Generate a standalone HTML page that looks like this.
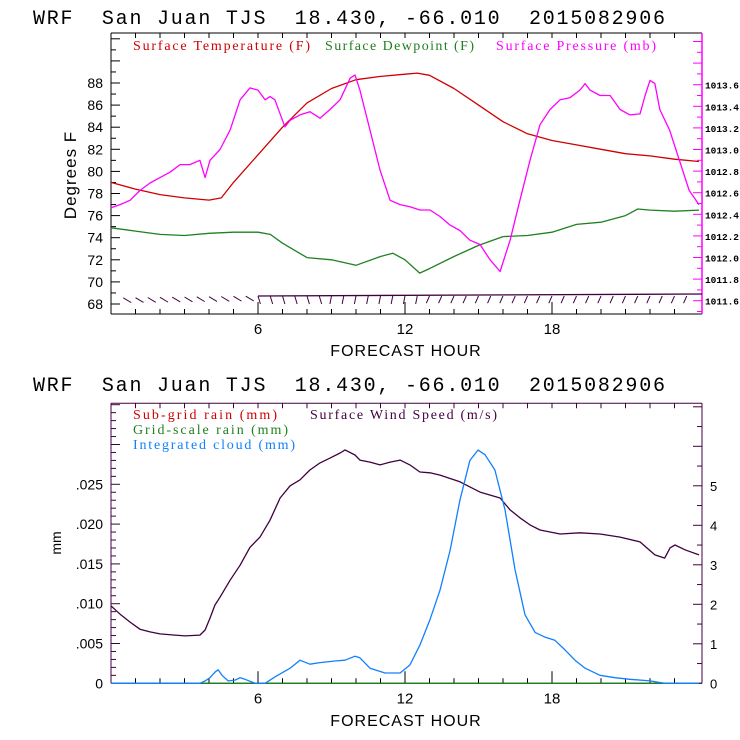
<!DOCTYPE html>
<html><head><meta charset="utf-8"><style>
html,body{margin:0;padding:0;background:#fff;}
svg{display:block;}
</style></head><body>
<svg id="s" width="740" height="740" xmlns="http://www.w3.org/2000/svg">
<rect width="740" height="740" fill="#fff"/>
<text x="33" y="24" font-family="Liberation Mono, monospace" font-size="20" textLength="632" lengthAdjust="spacing" xml:space="preserve">WRF  San Juan TJS  18.430, -66.010  2015082906</text>
<text x="33" y="391" font-family="Liberation Mono, monospace" font-size="20" textLength="632" lengthAdjust="spacing" xml:space="preserve">WRF  San Juan TJS  18.430, -66.010  2015082906</text>
<g font-family="Liberation Serif, serif" font-size="14">
<text x="133" y="50" fill="#d00000" textLength="177">Surface Temperature (F)</text>
<text x="325" y="50" fill="#208020" textLength="149">Surface Dewpoint (F)</text>
<text x="496" y="50" fill="#ff00ff" textLength="160">Surface Pressure (mb)</text>
<text x="133" y="419" fill="#d00000" textLength="144">Sub-grid rain (mm)</text>
<text x="310" y="419" fill="#400040" textLength="187">Surface Wind Speed (m/s)</text>
<text x="133" y="434" fill="#208020" textLength="155">Grid-scale rain (mm)</text>
<text x="133" y="449" fill="#1080ff" textLength="162">Integrated cloud (mm)</text>
</g>
<text transform="translate(76,175) rotate(-90)" text-anchor="middle" font-family="Liberation Sans, sans-serif" font-size="17" letter-spacing="1">Degrees F</text>
<text transform="translate(61,543) rotate(-90)" text-anchor="middle" font-family="Liberation Sans, sans-serif" font-size="14">mm</text>
<text x="406" y="356" text-anchor="middle" font-family="Liberation Sans, sans-serif" font-size="16" letter-spacing="1">FORECAST HOUR</text>
<text x="406" y="726" text-anchor="middle" font-family="Liberation Sans, sans-serif" font-size="16" letter-spacing="1">FORECAST HOUR</text>
<g id="g"></g>
</svg>
<script>
// ---- data ----
const tempHours=[0,1,2,3,4,4.5,5,6,7,8,9,10,11,12,12.5,13,14,15,16,17,18,19,20,21,22,23,24];
const tempVals=[79,78.4,77.9,77.6,77.4,77.6,79,81.5,84,86.2,87.5,88.3,88.6,88.8,88.9,88.7,87.5,86,84.5,83.4,82.8,82.4,82,81.6,81.4,81.1,80.9];
const dewHours=[0,1,2,3,4,5,6,6.5,7,8,9,10,11,11.5,12,12.6,13,14,15,16,17,18,19,20,21,21.5,22,23,24];
const dewVals=[74.9,74.6,74.3,74.2,74.4,74.5,74.5,74.3,73.5,72.2,72.0,71.5,72.3,72.6,72.0,70.8,71.2,72.3,73.3,74.1,74.2,74.5,75.2,75.4,76.0,76.6,76.5,76.4,76.5];
const presHours=[0,0.37,0.78,1.18,1.59,2.0,2.41,2.82,3.22,3.63,3.84,4.04,4.45,4.86,5.27,5.67,6,6.29,6.49,6.69,7.1,7.31,7.71,8.12,8.53,8.94,9.35,9.76,9.96,10.16,10.57,10.98,11.39,11.8,12.2,12.61,13.02,13.43,13.84,14.24,14.65,15.06,15.47,15.88,16.29,16.69,17.1,17.51,17.92,18.33,18.73,19.14,19.35,19.55,19.96,20.37,20.78,21.18,21.59,21.8,22.0,22.2,22.4,22.8,23.2,23.6,24.0];
const presVals=[1012.46,1012.49,1012.53,1012.62,1012.69,1012.74,1012.79,1012.86,1012.86,1012.90,1012.74,1012.90,1013.00,1013.18,1013.46,1013.57,1013.55,1013.46,1013.49,1013.46,1013.21,1013.27,1013.32,1013.35,1013.29,1013.37,1013.46,1013.66,1013.69,1013.55,1013.18,1012.81,1012.53,1012.49,1012.47,1012.44,1012.44,1012.38,1012.30,1012.25,1012.16,1012.12,1011.98,1011.87,1012.16,1012.53,1012.90,1013.23,1013.37,1013.46,1013.48,1013.55,1013.61,1013.55,1013.50,1013.50,1013.37,1013.32,1013.33,1013.50,1013.64,1013.61,1013.37,1013.18,1012.90,1012.62,1012.49];
const windHours=[0,0.37,0.78,1.18,1.59,2.0,2.61,3.02,3.63,3.84,4.04,4.24,4.45,4.86,5.27,5.67,6.08,6.49,6.9,7.31,7.71,8.12,8.53,8.94,9.35,9.55,9.96,10.16,10.57,10.98,11.39,11.8,12.2,12.61,13.02,13.43,14.24,15.06,15.88,16.29,16.69,17.1,17.51,18.33,19.14,19.96,20.78,21.59,22.2,22.6,22.82,23.02,23.43,24.0];
const windVals=[1.96,1.75,1.55,1.37,1.30,1.25,1.22,1.20,1.22,1.35,1.65,1.98,2.18,2.61,2.99,3.44,3.70,4.13,4.69,5.0,5.15,5.40,5.58,5.70,5.83,5.91,5.78,5.65,5.60,5.53,5.60,5.65,5.53,5.35,5.33,5.27,5.10,4.84,4.69,4.39,4.19,4.01,3.88,3.78,3.81,3.78,3.70,3.58,3.25,3.17,3.43,3.50,3.38,3.25];
const cloudHours=[0,3.63,3.84,4.04,4.24,4.37,4.53,4.78,5.06,5.27,5.47,5.88,6.29,6.69,7.31,7.71,8.12,8.53,9.14,9.55,9.96,10.16,10.57,11.18,11.8,12.2,12.61,13.02,13.43,13.84,14.24,14.65,14.98,15.27,15.67,16.08,16.49,16.9,17.31,17.71,18.12,18.53,18.94,19.35,19.96,20.57,21.18,22.0,22.6,24];
const cloudVals=[0,0,0.0003,0.0007,0.0014,0.0017,0.001,0.0003,0.0004,0.0007,0.0005,0,0,0.0008,0.0019,0.0029,0.0024,0.0026,0.0028,0.0029,0.0034,0.0032,0.0019,0.0013,0.0013,0.0023,0.0048,0.008,0.0117,0.0167,0.023,0.028,0.0293,0.0287,0.0268,0.0218,0.0143,0.0086,0.0064,0.0058,0.0054,0.0042,0.0029,0.0019,0.001,0.0007,0.0005,0.0003,0,0];
const rainHours=[0,24];
const subgridRain=[0,0];
const gridRain=[0,0];
const tempTicks=[68,70,72,74,76,78,80,82,84,86,88];
const presTicks=[1011.6,1011.8,1012.0,1012.2,1012.4,1012.6,1012.8,1013.0,1013.2,1013.4,1013.6];
const mmTicks=[0,0.005,0.010,0.015,0.020,0.025];
const mmLabels=["0",".005",".010",".015",".020",".025"];
const windTicks=[0,1,2,3,4,5];
const hourTicks=[6,12,18];
// ---- axes ----
const L=111,R=702,PX=24.5;
const xS=h=>L+h*PX;
const yT=t=>304-(t-68)*11.05;
const yP=p=>300.7-(p-1011.6)*108;
const yMM=c=>683.3-c*7960;
const yW=v=>683.3-v*39.5;
const NS="http://www.w3.org/2000/svg";
const g=document.getElementById('g');
function el(tag,attrs,parent){const e=document.createElementNS(NS,tag);for(const k in attrs)e.setAttribute(k,attrs[k]);(parent||g).appendChild(e);return e;}
function line(x1,y1,x2,y2,c,w){return el('line',{x1,y1,x2,y2,stroke:c,'stroke-width':w||1});}
function path(hs,vs,ys,c,name){
  let d='';hs.forEach((h,i)=>{d+=(i?'L':'M')+xS(h).toFixed(1)+','+ys(vs[i]).toFixed(1);});
  const p=el('path',{d,fill:'none',stroke:c,'stroke-width':1.3,'stroke-linejoin':'round'});
  
  
  return p;
}
function txt(x,y,s,anchor,size,fam,fw){const t=el('text',{x,y,'text-anchor':anchor,'font-size':size,'font-family':fam||'Liberation Sans, sans-serif','font-weight':fw||'normal'});t.textContent=s;return t;}
// top frame
const T0=33,T1=314;
line(L,T0,R,T0,'#000');line(L,T1,R,T1,'#000');line(L,T0,L,T1,'#000');
line(R,T0,R,T1,'#ff00ff',1.5);
for(let h=1;h<24;h++){line(xS(h),T0,xS(h),T0+5,'#000');}
for(let h=1;h<24;h++){const maj=h%6==0;line(xS(h),T1,xS(h),T1-(maj?12:5),'#000');}
hourTicks.forEach(h=>{const t=txt(xS(h),T1+20,String(h),'middle',15);});
for(let v=68;v<=92;v++){const y=yT(v);if(y<T0)continue;line(L,y,L+(v%2==0?9:5),y,'#000');}
tempTicks.forEach(v=>{const t=txt(103,yT(v)+5,String(v),'end',14);});
for(let i=0;i<=26;i++){const p=1011.5+i*0.1;const y=yP(p);if(y<T0||y>T1)continue;line(R,y,R-(i%2==1?9:5),y,'#ff00ff');}
presTicks.forEach(p=>{const t=txt(705,yP(p)+4,p.toFixed(1),'start',9.5,'Liberation Mono, monospace','bold');t.setAttribute('textLength','34');});
// bottom frame
const B0=403.3,B1=683.3;
line(L,B0,R,B0,'#400040');line(L,B1,R,B1,'#000');line(L,B0,L,B1,'#400040');line(R,B0,R,B1,'#400040');
for(let h=1;h<24;h++){line(xS(h),B0,xS(h),B0+5,'#400040');}
for(let h=1;h<24;h++){const maj=h%6==0;line(xS(h),B1,xS(h),B1-(maj?12:5),'#000');}
hourTicks.forEach(h=>{const t=txt(xS(h),B1+20,String(h),'middle',15);});
for(let i=0;i<=35;i++){const y=yMM(i*0.001);if(y<B0)continue;line(L,y,L+(i%5==0?9:5),y,'#400040');}
mmTicks.forEach((v,i)=>{const t=txt(103,yMM(v)+5,mmLabels[i],'end',14);});
for(let i=0;i<=14;i++){const y=yW(i*0.5);if(y<B0)continue;line(R,y,R-(i%2==0?9:5),y,'#400040');}
windTicks.forEach(v=>{const t=txt(710,yW(v)+5,String(v),'start',13);});
// wind barbs top chart
for(let i=0;i<48;i++){
  const h=0.5+i*0.5; if(h>23.9)break;
  const x=xS(h), y=296+(h<6?2-(h/6)*2:0);
  let dx,dy;
  if(h<6){dx=10;dy=6;} else if(h<9){dx=3;dy=10;} else if(h<13){dx=-2;dy=10;} else {dx=-4;dy=9;}
  const b=line(x,y,x+dx*0.8,y+dy*0.8,'#400040',1);
  
  
}
const bl=line(xS(6),296,R,294,'#400040',1.3);
// series
path(tempHours,tempVals,yT,'#d00000','temperature-line');
path(dewHours,dewVals,yT,'#208020','dewpoint-line');
path(presHours,presVals,yP,'#ff00ff','pressure-line');
path(windHours,windVals,yW,'#400040','wind-speed-line');
path(rainHours,gridRain,yMM,'#208020','gridscale-rain-line');
path(cloudHours,cloudVals,yMM,'#1080ff','cloud-line');
</script>
</body></html>
